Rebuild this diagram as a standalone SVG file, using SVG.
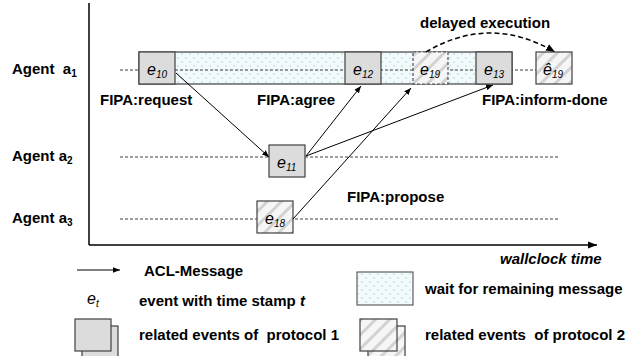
<svg xmlns="http://www.w3.org/2000/svg" width="630" height="356" viewBox="0 0 630 356">
<defs>
<pattern id="dots" width="8" height="8" patternUnits="userSpaceOnUse">
<rect width="8" height="8" fill="#f3fafb"/>
<circle cx="2" cy="2" r="0.8" fill="#a6d6e0"/>
<circle cx="6" cy="6" r="0.8" fill="#a6d6e0"/>
</pattern>
<pattern id="hatch" width="10" height="10" patternUnits="userSpaceOnUse" patternTransform="rotate(45)">
<rect width="10" height="10" fill="#f6f6f6"/>
<rect x="0" width="3" height="10" fill="#d2d2d2"/>
</pattern>
<marker id="ah" viewBox="0 0 10 10" refX="10" refY="5" markerWidth="7" markerHeight="7" markerUnits="userSpaceOnUse" orient="auto">
<path d="M0,1 L10,5 L0,9 z" fill="#000"/>
</marker>
<marker id="ahb" viewBox="0 0 10 10" refX="10" refY="5" markerWidth="9" markerHeight="9" markerUnits="userSpaceOnUse" orient="auto">
<path d="M0,1 L10,5 L0,9 z" fill="#000"/>
</marker>
</defs>
<style>
.lbl{font-family:"Liberation Sans",Arial,sans-serif;font-weight:bold;font-size:15px;fill:#000}
.ev{font-family:"Liberation Sans",Arial,sans-serif;font-style:italic;font-size:16px;fill:#000}
.sub{font-size:10px}
.box{fill:#dcdcdc;stroke:#404040;stroke-width:1.2}
.hbox{fill:url(#hatch);stroke:#404040;stroke-width:1.2}
.dash{stroke:#404040;stroke-width:1;stroke-dasharray:3,2;fill:none}
.msg{stroke:#000;stroke-width:1;fill:none;marker-end:url(#ah)}
</style>

<g id="axes">
<line x1="89" y1="3" x2="89" y2="245" stroke="#000" stroke-width="1.5"/>
<line x1="89" y1="245" x2="597" y2="245" stroke="#000" stroke-width="1.5" marker-end="url(#ahb)"/>
<text class="lbl" x="500" y="264" font-style="italic">wallclock time</text>
</g>

<g id="agent-labels">
<text class="lbl" x="12" y="74" xml:space="preserve">Agent  a<tspan class="sub" dy="3">1</tspan></text>
<text class="lbl" x="12" y="161">Agent a<tspan class="sub" dy="3">2</tspan></text>
<text class="lbl" x="12" y="223">Agent a<tspan class="sub" dy="3">3</tspan></text>
</g>

<g id="lifelines">
<rect x="139" y="52" width="373" height="32" fill="url(#dots)" stroke="#404040" stroke-width="1.2"/>
<line class="dash" x1="120" y1="70" x2="536" y2="70"/>
<line class="dash" x1="120" y1="157" x2="560" y2="157"/>
<line class="dash" x1="120" y1="219" x2="560" y2="219"/>
</g>

<g id="e10"><rect class="box" x="139" y="52" width="36" height="32"/><text class="ev" x="147" y="75">e<tspan class="sub" dy="3">10</tspan></text></g>
<g id="e12"><rect class="box" x="345" y="52" width="36" height="32"/><text class="ev" x="353" y="75">e<tspan class="sub" dy="3">12</tspan></text></g>
<g id="e19"><rect x="413" y="52" width="35" height="32" fill="url(#hatch)" stroke="#505050" stroke-width="1.2" stroke-dasharray="3,2"/><text class="ev" x="420" y="75">e<tspan class="sub" dy="3">19</tspan></text></g>
<g id="e13"><rect class="box" x="476" y="52" width="36" height="32"/><text class="ev" x="484" y="75">e<tspan class="sub" dy="3">13</tspan></text></g>
<g id="e19hat"><rect class="hbox" x="536" y="52" width="36" height="32"/><text class="ev" x="543" y="75">ê<tspan class="sub" dy="3">19</tspan></text></g>
<g id="e11"><rect class="box" x="269" y="145" width="36" height="32"/><text class="ev" x="277" y="168">e<tspan class="sub" dy="3">11</tspan></text></g>
<g id="e18"><rect class="hbox" x="257" y="201" width="36" height="32"/><text class="ev" x="265" y="224">e<tspan class="sub" dy="3">18</tspan></text></g>

<g id="connectors">
<line class="msg" x1="176" y1="73" x2="269" y2="157"/>
<line class="msg" x1="306" y1="156" x2="361" y2="86"/>
<line class="msg" x1="306" y1="156" x2="493" y2="85"/>
<line class="msg" x1="293" y1="219" x2="411" y2="88"/>
<path d="M426,52 Q490,14 555,52" fill="none" stroke="#000" stroke-width="1.5" stroke-dasharray="5,3" marker-end="url(#ahb)"/>
</g>

<g id="msg-labels">
<text class="lbl" x="100" y="105">FIPA:request</text>
<text class="lbl" x="257" y="105">FIPA:agree</text>
<text class="lbl" x="482" y="105">FIPA:inform-done</text>
<text class="lbl" x="347" y="202">FIPA:propose</text>
<text class="lbl" x="420" y="28">delayed execution</text>
</g>

<g id="legend">
<line x1="77" y1="270" x2="120" y2="270" stroke="#000" stroke-width="1" marker-end="url(#ah)"/>
<text class="lbl" x="144" y="276">ACL-Message</text>
<text class="ev" x="87" y="304">e<tspan class="sub" dy="3">t</tspan></text>
<text class="lbl" x="139" y="306">event with time stamp <tspan font-style="italic">t</tspan></text>
<rect class="box" x="82" y="326" width="36" height="34"/>
<rect class="box" x="75" y="319" width="36" height="32"/>
<text class="lbl" x="139" y="340" xml:space="preserve">related events of  protocol 1</text>
<rect x="357" y="272" width="56" height="33" fill="url(#dots)" stroke="#404040" stroke-width="1"/>
<text class="lbl" x="425" y="294">wait for remaining message</text>
<rect class="hbox" x="368" y="326" width="37" height="34"/>
<rect class="hbox" x="360" y="319" width="37" height="32"/>
<text class="lbl" x="425" y="340" xml:space="preserve">related events  of protocol 2</text>
</g>
</svg>
